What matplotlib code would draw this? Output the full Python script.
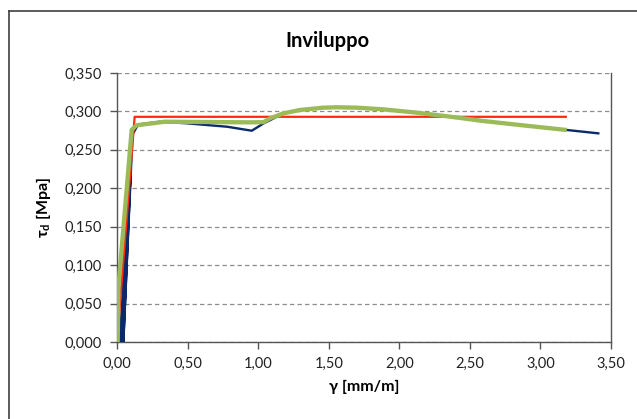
import matplotlib

matplotlib.use("Agg")
import matplotlib.pyplot as plt
from matplotlib.lines import Line2D
from matplotlib.ticker import FuncFormatter, MultipleLocator

plt.rcParams["font.family"] = ["Lato", "DejaVu Sans"]

# strain gamma [mm/m] and shear stress tau_d [MPa]
# measured envelope (blue), including the dense loading cycles near the origin
GAMMA_MEAS = [0.02, 0.085, 0.035, 0.095, 0.045, 0.11, 0.15, 0.30, 0.49, 0.78,
              0.955, 1.04, 1.11, 1.18, 1.30, 1.46, 1.70, 1.89, 2.12, 2.36,
              2.60, 2.83, 3.19, 3.41]
TAU_MEAS = [0.000, 0.205, 0.000, 0.215, 0.000, 0.270, 0.283, 0.2865, 0.2846,
            0.2801, 0.2749, 0.2846, 0.291, 0.2975, 0.3019, 0.3049, 0.3049,
            0.3027, 0.2984, 0.2932, 0.2875, 0.2828, 0.2758, 0.2715]

# smoothed envelope (green)
GAMMA_ENV = [0.005, 0.01, 0.046, 0.104, 0.139, 0.34, 0.943, 1.037, 1.084,
             1.18, 1.297, 1.462, 1.557, 1.699, 1.887, 2.124, 2.36, 2.596,
             2.83, 3.187]
TAU_ENV = [0.000, 0.072, 0.150, 0.276, 0.282, 0.2866, 0.2858, 0.286, 0.291,
           0.2975, 0.3019, 0.3049, 0.3054, 0.3049, 0.3027, 0.2984, 0.2932,
           0.2875, 0.2828, 0.2758]

# bilinear idealisation (red)
GAMMA_BIL = [0.0, 0.125, 3.18]
TAU_BIL = [0.0, 0.293, 0.293]

X_MAX = 3.5
Y_MAX = 0.35


def comma(fmt):
    return FuncFormatter(lambda v, _: format(v, fmt).replace(".", ","))


fig = plt.figure(figsize=(6.37, 4.19), dpi=100)
ax = fig.add_axes([117 / 637, 1 - 342 / 419, 494 / 637, 269 / 419])

ax.plot(GAMMA_MEAS, TAU_MEAS, color="#0b2a6b", lw=1.7, zorder=3)
ax.plot(GAMMA_BIL, TAU_BIL, color="#ff2a10", lw=1.6, zorder=4)
ax.plot(GAMMA_ENV, TAU_ENV, color="#9bbb59", lw=3.1, zorder=5,
        solid_capstyle="butt")

ax.set_xlim(0, X_MAX)
ax.set_ylim(0, Y_MAX)
ax.xaxis.set_major_locator(MultipleLocator(0.5))
ax.yaxis.set_major_locator(MultipleLocator(0.05))
ax.xaxis.set_major_formatter(comma(".2f"))
ax.yaxis.set_major_formatter(comma(".3f"))
ax.grid(axis="y", color="#8c8c8c", ls=(0, (3.5, 2.5)), lw=0.9)
ax.set_axisbelow(True)
ax.spines["top"].set_visible(False)
for s in ("left", "right", "bottom"):
    ax.spines[s].set_color("#555555")
    ax.spines[s].set_linewidth(1.0)
ax.tick_params(direction="out", length=5, width=1, color="#555555",
               labelsize=10.5, labelcolor="#222222", pad=6)

ax.set_xlabel("γ [mm/m]", fontsize=11.5, fontweight="bold", labelpad=6)
ax.set_ylabel(r"τ$_\mathregular{d}$ [Mpa]", fontsize=11.5, fontweight="bold",
              labelpad=8)
fig.text(327 / 637, 1 - 41 / 419, "Inviluppo", ha="center", va="center",
         fontsize=14.5, fontweight="bold")

# chart-area frame (left and top edges)
fig.add_artist(Line2D([9 / 637, 9 / 637], [0, 1 - 11 / 419],
                      transform=fig.transFigure, color="#404040", lw=1.2))
fig.add_artist(Line2D([9 / 637, 1], [1 - 11 / 419, 1 - 11 / 419],
                      transform=fig.transFigure, color="#404040", lw=1.2))

fig.savefig("out.png", dpi=100)
